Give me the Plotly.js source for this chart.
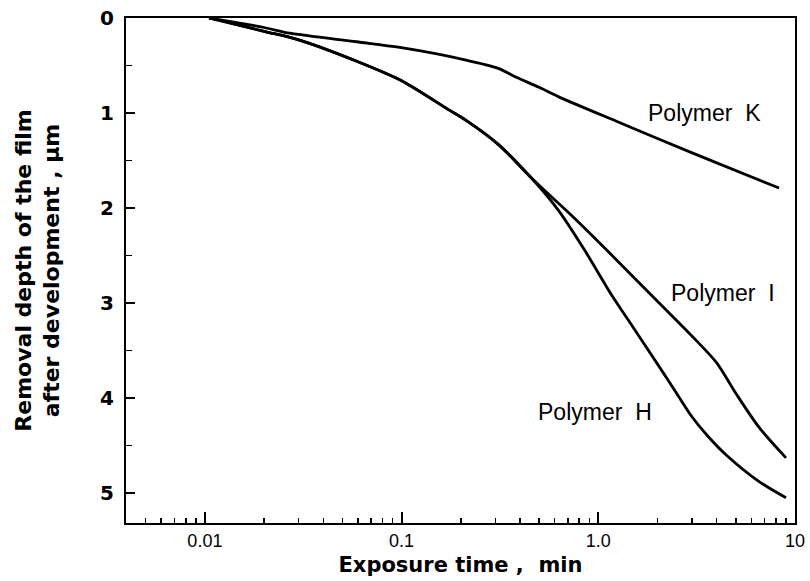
<!DOCTYPE html>
<html>
<head>
<meta charset="utf-8">
<script src="https://cdn.plot.ly/plotly-3.0.1.min.js"></script>
<style>html,body{margin:0;padding:0;background:#fff;}#chart{width:810px;height:581px;}</style>
</head>
<body>
<div id="chart"></div>
<script>
// Exposure time (min) and removal depth (um)
const timeK = [0.0105, 0.02, 0.027, 0.059, 0.098, 0.21, 0.31, 0.38, 0.5, 0.63, 1.28, 3.0, 8.3];
const depthK = [0, 0.10, 0.16, 0.25, 0.31, 0.44, 0.53, 0.62, 0.73, 0.83, 1.10, 1.42, 1.79];

const timeI = [0.0105, 0.02, 0.03, 0.06, 0.1, 0.175, 0.21, 0.31, 0.46, 0.75, 1.1, 2.04, 3.0, 4.0, 5.0, 6.57, 9.0];
const depthI = [0, 0.14, 0.23, 0.46, 0.66, 0.97, 1.07, 1.33, 1.69, 2.1, 2.44, 3.0, 3.35, 3.63, 3.95, 4.31, 4.63];

const timeH = [0.0105, 0.02, 0.03, 0.06, 0.1, 0.175, 0.21, 0.31, 0.46, 0.63, 0.85, 1.18, 1.39, 2.04, 2.5, 3.0, 3.6, 4.47, 6.57, 9.0];
const depthH = [0, 0.14, 0.23, 0.46, 0.66, 0.97, 1.07, 1.33, 1.69, 2.03, 2.44, 2.93, 3.15, 3.67, 3.95, 4.2, 4.4, 4.6, 4.88, 5.05];

const xTickVals = [0.01, 0.1, 1, 10];
const xTickText = ['0.01', '0.1', '1.0', '10'];
const yTickVals = [0, 1, 2, 3, 4, 5];
const yTickText = ['0', '1', '2', '3', '4', '5'];
const seriesNames = ['Polymer  K', 'Polymer  I', 'Polymer  H'];

const lineStyle = {color: '#000', width: 2.8, shape: 'spline', smoothing: 0.8};
const traces = [
  {x: timeK, y: depthK, name: seriesNames[0]},
  {x: timeI, y: depthI, name: seriesNames[1]},
  {x: timeH, y: depthH, name: seriesNames[2]}
].map(t => Object.assign(t, {type: 'scatter', mode: 'lines', line: lineStyle, hoverinfo: 'skip'}));

const labelFont = {family: 'Liberation Sans, Arial, sans-serif', size: 23, color: '#000'};
const layout = {
  width: 810, height: 581,
  margin: {l: 126, r: 15, t: 18, b: 58},
  paper_bgcolor: '#fff', plot_bgcolor: '#fff',
  showlegend: false,
  xaxis: {
    type: 'log', range: [-2.401, 1.0001],
    tickvals: xTickVals, ticktext: xTickText,
    ticks: 'inside', ticklen: 11, tickwidth: 2, tickcolor: '#000',
    minor: {ticks: 'inside', ticklen: 5, tickwidth: 1.5, tickcolor: '#000', dtick: 'D1', showgrid: false},
    showline: true, linecolor: '#000', linewidth: 2, mirror: true,
    showgrid: false, zeroline: false,
    tickfont: {family: 'Liberation Sans, Arial, sans-serif', size: 18, color: '#000'},
    title: {text: 'Exposure time ,  min', font: {family: 'DejaVu Sans, sans-serif', size: 21, color: '#000', weight: 'bold'}, standoff: 8}
  },
  yaxis: {
    range: [5.316, 0],
    tickvals: yTickVals, ticktext: yTickText,
    ticks: 'inside', ticklen: 9, tickwidth: 2, tickcolor: '#000',
    minor: {ticks: 'inside', ticklen: 6, tickwidth: 1.5, tickcolor: '#000', dtick: 0.5, showgrid: false},
    showline: true, linecolor: '#000', linewidth: 2, mirror: true,
    showgrid: false, zeroline: false,
    tickfont: {family: 'DejaVu Sans, sans-serif', size: 20, color: '#000', weight: 'bold'},
    ticklabelstandoff: 6,
    title: {text: 'Removal depth of the film<br>after development , μm', font: {family: 'DejaVu Sans, sans-serif', size: 22, color: '#000', weight: 'bold'}, standoff: 34}
  },
  annotations: [
    {text: seriesNames[0], xref: 'paper', yref: 'paper', x: 0.864, y: 0.812, xanchor: 'center', yanchor: 'middle', showarrow: false, font: labelFont},
    {text: seriesNames[1], xref: 'paper', yref: 'paper', x: 0.892, y: 0.455, xanchor: 'center', yanchor: 'middle', showarrow: false, font: labelFont},
    {text: seriesNames[2], xref: 'paper', yref: 'paper', x: 0.701, y: 0.220, xanchor: 'center', yanchor: 'middle', showarrow: false, font: labelFont}
  ]
};

Plotly.newPlot('chart', traces, layout, {staticPlot: true, displayModeBar: false});
</script>
</body>
</html>
